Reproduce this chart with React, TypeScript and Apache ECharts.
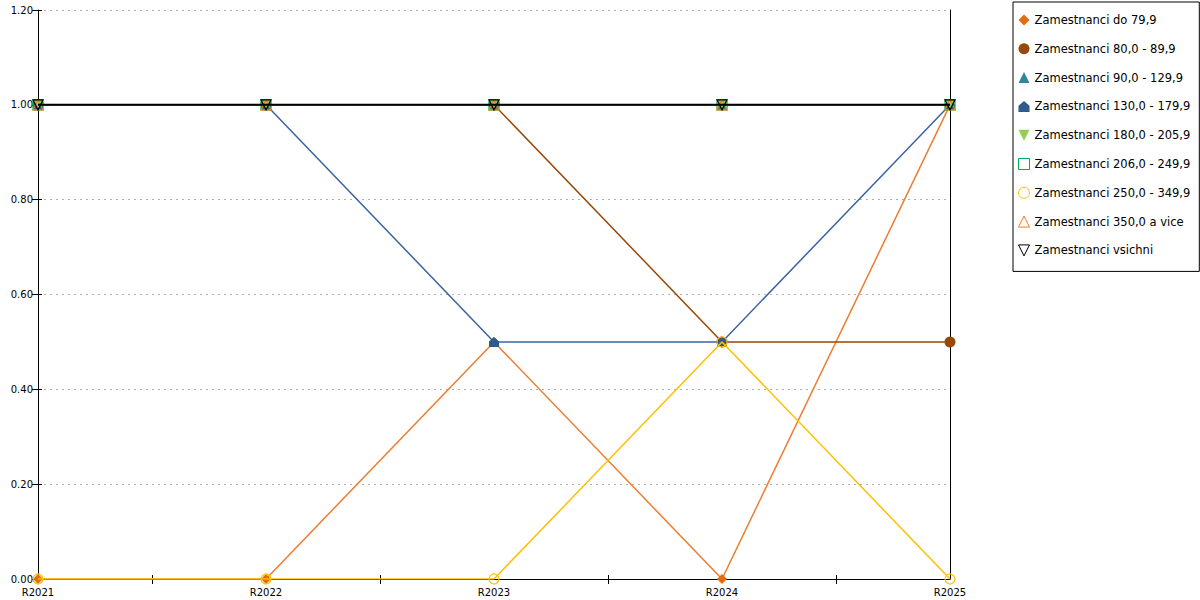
import React, { useEffect, useRef } from "react";
import * as echarts from "echarts";

const categories = ["R2021", "R2022", "R2023", "R2024", "R2025"];
const yTicks = [0, 0.2, 0.4, 0.6, 0.8, 1.0, 1.2];

const names = [
  "Zamestnanci do 79,9",
  "Zamestnanci 80,0 - 89,9",
  "Zamestnanci 90,0 - 129,9",
  "Zamestnanci 130,0 - 179,9",
  "Zamestnanci 180,0 - 205,9",
  "Zamestnanci 206,0 - 249,9",
  "Zamestnanci 250,0 - 349,9",
  "Zamestnanci 350,0 a vice",
  "Zamestnanci vsichni",
];

const s1 = [0, 0, 0.5, 0, 1];
const s2 = [1, 1, 1, 0.5, 0.5];
const s3 = [1, 1, 1, 1, 1];
const s4 = [1, 1, 0.5, 0.5, 1];
const s5 = [1, 1, 1, 1, 1];
const s6 = [1, 1, 1, 1, 1];
const s7 = [0, 0, 0, 0.5, 0];
const s8 = [1, 1, 1, 1, 1];
const s9 = [1, 1, 1, 1, 1];
const values = [s1, s2, s3, s4, s5, s6, s7, s8, s9];

const HOUSE = "path://M5,0 L10,4.5 L10,10 L0,10 L0,4.5 Z";
const INV_TRI = "path://M0,0 L10,0 L5,10 Z";
const NONE = "rgba(0,0,0,0)";

const styles = [
  { symbol: "diamond", size: 10, fill: "#e46c0a", border: "#e46c0a", line: "#ed7d31", width: 1.5 },
  { symbol: "circle", size: 11, fill: "#984807", border: "#984807", line: "#984807", width: 1.5 },
  { symbol: "triangle", size: 10, fill: "#31859c", border: "#31859c", line: "#31859c", width: 1.5 },
  { symbol: HOUSE, size: 10, fill: "#2f5a8c", border: "#2f5a8c", line: "#3a64a0", width: 1.5 },
  { symbol: INV_TRI, size: 10, fill: "#92d050", border: "#92d050", line: "#92d050", width: 1.5 },
  { symbol: "rect", size: 10, fill: NONE, border: "#00b050", line: "#00b050", width: 1.5 },
  { symbol: "circle", size: 10, fill: NONE, border: "#ffc000", line: "#ffc000", width: 1.5 },
  { symbol: "triangle", size: 10, fill: NONE, border: "#f47a20", line: "#f47a20", width: 1.5 },
  { symbol: INV_TRI, size: 10, fill: NONE, border: "#000000", line: "#000000", width: 2 },
];

const midCats = ["0", "1", "2", "3", "4", "5", "6", "7", "8"];
const FONT = "DejaVu Sans";

export default function App() {
  const ref = useRef<HTMLDivElement>(null);
  useEffect(() => {
    if (!ref.current) return;
    const chart = echarts.init(ref.current, undefined, { renderer: "svg" });
    const series = names.map((n, i) => {
      const st = styles[i];
      return {
        name: n,
        type: "line",
        data: values[i],
        symbol: st.symbol,
        symbolSize: st.size,
        showAllSymbol: true,
        itemStyle: { color: st.fill, borderColor: st.border, borderWidth: st.fill === NONE ? 1.2 : 0 },
        lineStyle: { color: st.line, width: st.width },
        emphasis: { disabled: true },
        z: 2 + i,
      };
    });
    chart.setOption({
      animation: false,
      textStyle: { fontFamily: FONT },
      grid: { left: 38, right: 250, top: 10, bottom: 21, containLabel: false },
      legend: {
        orient: "vertical",
        left: 1013,
        top: 2,
        padding: [12, 9, 15, 5],
        itemWidth: 11,
        itemHeight: 11,
        itemGap: 16.8,
        borderColor: "#000",
        borderWidth: 1,
        itemStyle: { borderWidth: 1 },
        textStyle: { fontFamily: FONT, fontSize: 11.5, color: "#000", lineHeight: 12 },
        data: names.map((n, i) => ({
          name: n,
          icon: styles[i].symbol,
          itemStyle: { color: styles[i].fill, borderColor: styles[i].border, borderWidth: styles[i].fill === NONE ? 1 : 0 },
        })),
        selectedMode: false,
      },
      xAxis: [
        {
          type: "category",
          data: categories,
          boundaryGap: false,
          axisLine: { show: true, lineStyle: { color: "#000", width: 1 } },
          axisTick: { show: false },
          axisLabel: { color: "#000", fontSize: 10, fontFamily: FONT, margin: 8 },
          splitLine: { show: false },
        },
        {
          type: "category",
          data: midCats,
          boundaryGap: false,
          position: "bottom",
          offset: -4,
          axisLine: { show: false },
          axisTick: {
            show: true,
            length: 9,
            interval: (idx: number) => idx % 2 === 1,
            lineStyle: { color: "#000" },
          },
          axisLabel: { show: false },
          splitLine: { show: false },
        },
      ],
      yAxis: [
        {
          type: "value",
          min: yTicks[0],
          max: yTicks[yTicks.length - 1],
          interval: 0.2,
          axisLine: { show: true, lineStyle: { color: "#000" } },
          axisTick: { show: true, length: 6, lineStyle: { color: "#000" } },
          axisLabel: {
            color: "#000",
            fontSize: 10,
            fontFamily: FONT,
            margin: 5,
            formatter: (v: number) => v.toFixed(2),
          },
          splitLine: { show: true, lineStyle: { color: "#b0b0b0", type: [2, 4], width: 1 } },
        },
        {
          type: "value",
          position: "right",
          min: yTicks[0],
          max: yTicks[yTicks.length - 1],
          interval: 0.2,
          axisLine: { show: true, lineStyle: { color: "#000" } },
          axisTick: { show: false },
          axisLabel: { show: false },
          splitLine: { show: false },
        },
        {
          type: "value",
          position: "left",
          min: yTicks[0],
          max: yTicks[yTicks.length - 1],
          interval: 0.2,
          axisLine: { show: false },
          axisTick: { show: true, inside: true, length: 4, lineStyle: { color: "#000" } },
          axisLabel: { show: false },
          splitLine: { show: false },
        },
      ],
      series,
    });
    return () => chart.dispose();
  }, []);
  return (
    <div
      ref={ref}
      style={{ position: "absolute", left: 0, top: 0, width: 1200, height: 600, background: "#fff" }}
    />
  );
}
